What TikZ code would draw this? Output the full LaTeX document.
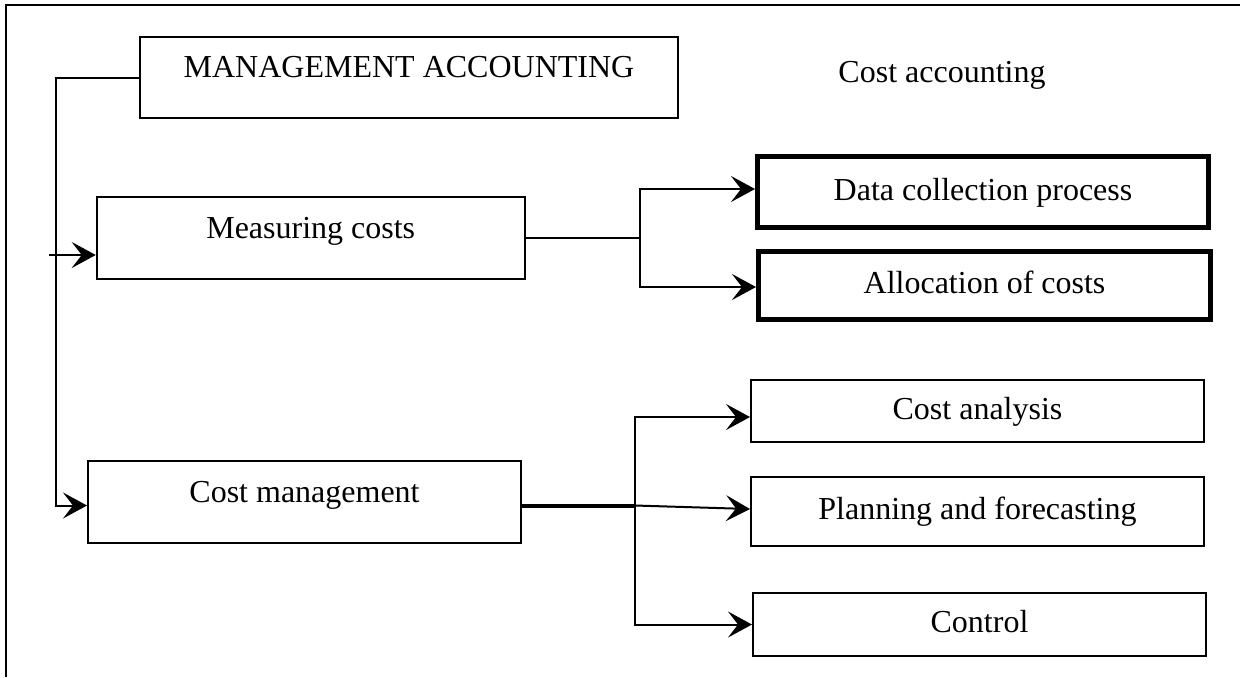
\documentclass[tikz,border=0pt]{standalone}
\usepackage{fontspec}
\setmainfont{Liberation Serif}
\usetikzlibrary{arrows.meta}

\begin{document}
\begin{tikzpicture}[
x=0.5pt,y=-0.5pt,
font=\fontsize{16pt}{19pt}\selectfont,
box/.style={draw,line width=1pt,inner sep=0pt,text height=11pt,text depth=3pt},
leftbox/.style={box,text depth=11pt},
boldbox/.style={box,line width=2.5pt},
link/.style={-{Stealth[length=12pt,width=13pt,inset=5pt]},line width=1pt}]
    \useasboundingbox (0,0) rectangle (1240,677);
    % Frame
    \draw[line width=1.3pt] (6,677) -- (6,5) -- (1240,5);

    \node[leftbox,minimum width=269pt,minimum height=40.5pt] (acct) at (409,77.5) {MANAGEMENT ACCOUNTING};
    \node[anchor=base] (costacct) at (942,82.7) {Cost accounting};
    \node[leftbox,minimum width=214pt,minimum height=41pt] (meas) at (310.75,238) {Measuring costs};
    \node[leftbox,minimum width=216.5pt,minimum height=41pt] (mgmt) at (304.5,502) {Cost management};

    \node[boldbox,minimum width=225.5pt,minimum height=35.5pt] (data) at (983,192) {Data collection process};
    \node[boldbox,minimum width=226pt,minimum height=34pt] (alloc) at (984.5,285.5) {Allocation of costs};
    \node[box,minimum width=226.5pt,minimum height=31pt] (analysis) at (977.5,411) {Cost analysis};
    \node[box,minimum width=226.5pt,minimum height=34.5pt] (plan) at (977.5,511.5) {Planning and forecasting};
    \node[box,minimum width=226.5pt,minimum height=31.5pt] (ctrl) at (979.5,624.5) {Control};

    \coordinate (stub) at (49,255);
    \coordinate (split1) at (640,238);
    \coordinate (split2) at (635,505.5);

    % Left bus
    \draw[link] (acct.west) -- ++(-83,0) |- (mgmt.west |- split2);
    \draw[link] (stub) -- (stub -| meas.west);

    \draw[line width=1pt] (meas.east) -- (split1);
    \draw[link] (split1) |- ([yshift=1.5pt]data.west);
    \draw[link] (split1) |- ([yshift=-0.75pt]alloc.west);

    \draw[line width=2pt] (mgmt.east |- split2) -- (split2);
    \draw[link] (split2) |- ([yshift=-3pt]analysis.west);
    \draw[link] (split2) -- ([yshift=1.25pt]plan.west);
    \draw[link] (split2) |- (ctrl.west);

\end{tikzpicture}
\end{document}
